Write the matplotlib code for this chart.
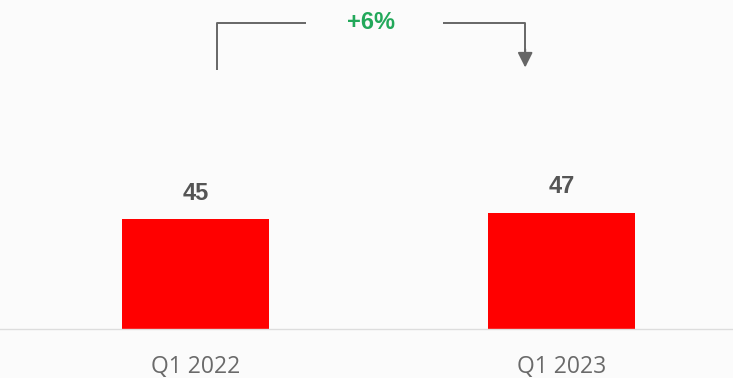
import numpy as np
import matplotlib.pyplot as plt

plt.rcParams['font.family'] = ['Open Sans', 'DejaVu Sans']

# data
quarters = ['Q1 2022', 'Q1 2023']
values = [44.7, 47.3]
change_label = '+6%'

bar_color = '#ff0000'
text_grey = '#555555'
line_grey = '#666666'

fig = plt.figure(figsize=(7.33, 3.78), dpi=100)
fig.patch.set_facecolor('#fbfbfb')
ax = fig.add_axes([0, 0.1296, 1, 0.8704])
ax.set_facecolor('none')

x = np.arange(len(quarters))
bars = ax.bar(x, values, width=0.4, color=bar_color)

for xi, v in zip(x, values):
    ax.annotate(f'{v:.0f}', (xi, v), xytext=(0, 14), textcoords='offset points',
                ha='center', va='baseline', fontsize=17, fontweight='bold',
                color=text_grey, family=['Liberation Sans', 'DejaVu Sans'])

ax.set_xlim(-0.5345, 1.469)
ax.set_ylim(0, 134)
ax.set_xticks(x, quarters)
ax.tick_params(axis='x', length=0, pad=19, labelsize=16.5, labelcolor='#6a6a6a')
ax.set_yticks([])
for s in ['top', 'left', 'right']:
    ax.spines[s].set_visible(False)
ax.spines['bottom'].set_color('#dddddd')
ax.spines['bottom'].set_linewidth(1)

# change bracket between the two bars
y_top = 124.7
x_left = x[0] + 0.058
x_right = x[1] - 0.099
kw = dict(color=line_grey, lw=1.4, solid_capstyle='butt')
ax.plot([x_left, x_left, x_left + 0.244], [105.5, y_top, y_top], **kw)
ax.plot([x_right - 0.224, x_right, x_right], [y_top, y_top, 113], **kw)
ax.annotate('', xy=(x_right, 106.5), xytext=(x_right, 114),
            arrowprops=dict(arrowstyle='-|>,head_length=0.9,head_width=0.45',
                            color=line_grey, lw=1.4, shrinkA=0, shrinkB=0))
ax.text((x_left + x_right) / 2, y_top, change_label, ha='center', va='center',
        fontsize=17, fontweight='bold', color='#22a85a',
        family=['Liberation Sans', 'DejaVu Sans'])

fig.savefig('out.png', dpi=100, facecolor=fig.get_facecolor())
